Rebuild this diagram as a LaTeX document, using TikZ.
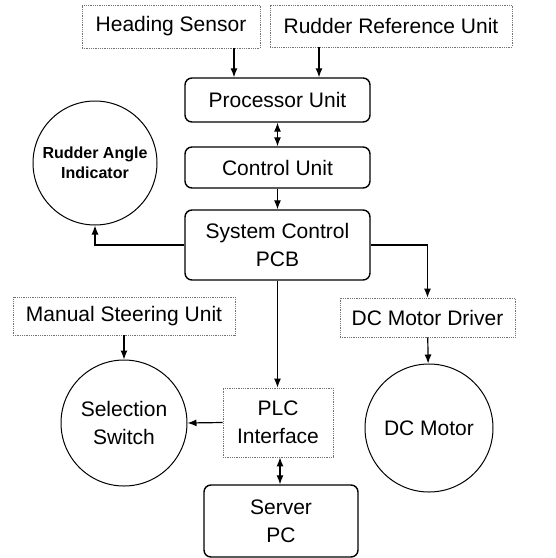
\documentclass[tikz,border=0pt]{standalone}
\usepackage{fontspec}
\setmainfont{Liberation Sans}
\usetikzlibrary{arrows.meta}
\begin{document}
\begin{tikzpicture}[x=1pt,y=-1pt,
  txt/.style={font=\fontsize{21}{28}\selectfont, align=center, inner sep=0pt},
  dotbox/.style={txt, draw=black!55, densely dotted, line width=0.8pt},
  rbox/.style={txt, draw=black, line width=1.4pt, rounded corners=7pt},
  circ/.style={txt, draw=black, circle, line width=1pt},
  arr/.style={-{Latex[length=9pt,width=7pt]}, line width=1.2pt},
  darr/.style={{Latex[length=9pt,width=7pt]}-{Latex[length=9pt,width=7pt]}, line width=1.2pt}]
\useasboundingbox (0,0) rectangle (556,558);
\fill[white] (0,0) rectangle (556,558);
\node[dotbox, minimum width=178pt, minimum height=43pt] (hs) at (171,26.5) {Heading Sensor};
\node[dotbox, minimum width=242pt, minimum height=42pt] (rru) at (391,26) {Rudder Reference Unit};
\node[rbox, minimum width=185pt, minimum height=44pt] (pu) at (277.5,100) {Processor Unit};
\node[rbox, minimum width=185pt, minimum height=41pt] (cu) at (277.5,167.5) {Control Unit};
\node[rbox, minimum width=185pt, minimum height=70pt] (pcb) at (277.5,245) {System Control\\PCB};
\node[circ, minimum size=124pt, font=\bfseries\fontsize{16}{20}\selectfont] (rai) at (95,163) {Rudder Angle\\Indicator};
\node[dotbox, minimum width=175pt, minimum height=39pt] (dmd) at (427.5,317.5) {DC Motor Driver};
\node[circ, minimum size=128pt] (dcm) at (429,428) {DC Motor};
\node[dotbox, minimum width=222pt, minimum height=38pt] (msu) at (124,316) {Manual Steering Unit};
\node[circ, minimum size=126pt] (ss) at (124,423) {Selection\\Switch};
\node[dotbox, minimum width=110pt, minimum height=69pt] (plc) at (278,422.5) {PLC\\Interface};
\node[rbox, minimum width=154pt, minimum height=72pt] (spc) at (281,521) {Server\\PC};
\draw[arr] ([xshift=63pt]hs.south) -- ([xshift=-43.5pt]pu.north);
\draw[arr] ([xshift=-72pt]rru.south) -- ([xshift=41.5pt]pu.north);
\draw[darr] (pu) -- (cu);
\draw[arr] (cu) -- (pcb);
\draw[arr] (pcb.west) -| (rai.south);
\draw[arr] (pcb.east) -| (dmd.north);
\draw[arr] (dmd) -- (dcm);
\draw[arr] (msu) -- (ss);
\draw[arr] (pcb.south) -- (pcb.south |- plc.north);
\draw[arr] (plc.west) -- (ss.east);
\draw[darr] ([xshift=2pt]plc.south) -- ([xshift=2pt]plc.south |- spc.north);
\end{tikzpicture}
\end{document}
